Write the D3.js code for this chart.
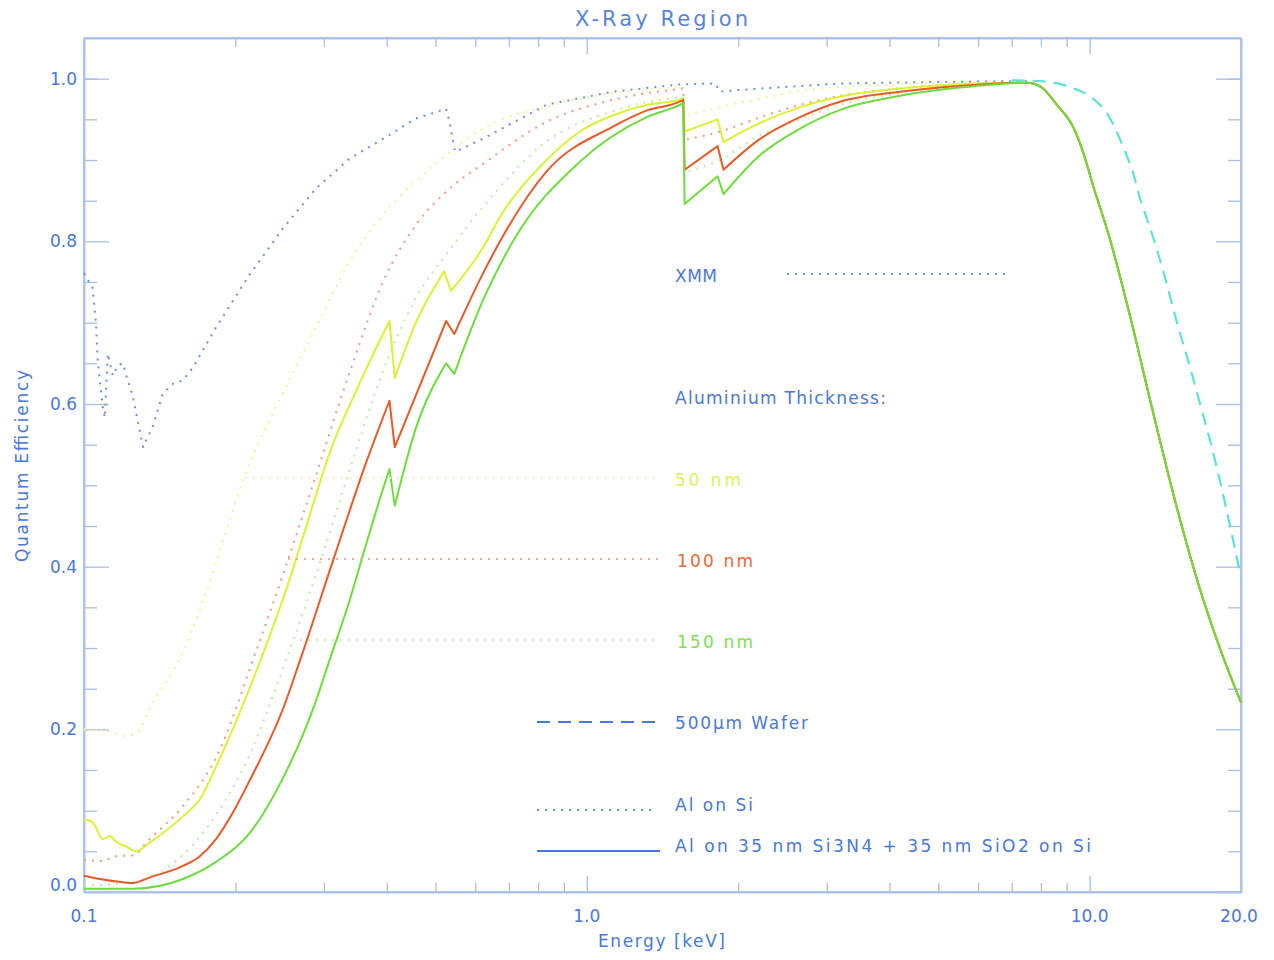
<!DOCTYPE html>
<html><head><meta charset="utf-8">
<script src="https://cdn.jsdelivr.net/npm/d3@7"></script>
<style>body{margin:0;background:#fff}svg{display:block}text{font-family:"DejaVu Sans",sans-serif}</style>
</head><body><svg id="c" width="1274" height="960"></svg>
<script>
// ---------- data (energy keV, quantum efficiency) ----------
const tailE  = [7.5, 8.0, 8.6, 9.3, 9.7, 10.2, 10.9, 12.1, 13.2, 14.8, 16.6, 18.2, 20.0];
const tailQE = [0.995, 0.99, 0.968, 0.939, 0.91, 0.865, 0.809, 0.702, 0.604, 0.48, 0.371, 0.298, 0.233];

const xmmE  = [0.1, 0.104, 0.1056, 0.1065, 0.109, 0.110, 0.1115, 0.1141, 0.117, 0.1195, 0.1211, 0.125, 0.131, 0.1371, 0.1435, 0.1503, 0.1573, 0.1647, 0.183, 0.214, 0.2487, 0.2893, 0.338, 0.393, 0.457, 0.525, 0.534, 0.547, 0.621, 0.832, 1.127, 1.534, 1.8, 1.84, 2.0, 2.5, 3.2, 5.0, 7.5];
const xmmQE = [0.761, 0.743, 0.70, 0.653, 0.596, 0.583, 0.662, 0.635, 0.648, 0.65, 0.637, 0.61, 0.547, 0.573, 0.613, 0.625, 0.629, 0.645, 0.694, 0.76, 0.816, 0.865, 0.902, 0.926, 0.951, 0.963, 0.945, 0.91, 0.926, 0.968, 0.984, 0.993, 0.994, 0.984, 0.986, 0.99, 0.994, 0.996, 0.997];

// Al on Si (dotted)
const si50E  = [0.1, 0.11, 0.121, 0.128, 0.135, 0.157, 0.183, 0.207, 0.2487, 0.2893, 0.338, 0.393, 0.457, 0.534, 0.621, 0.832, 1.127, 1.555, 1.565, 1.84, 2.2, 2.66, 3.2, 4.2, 5.5];
const si50QE = [0.2, 0.198, 0.192, 0.197, 0.225, 0.294, 0.404, 0.506, 0.613, 0.694, 0.776, 0.833, 0.874, 0.91, 0.939, 0.966, 0.982, 0.99, 0.955, 0.965, 0.975, 0.985, 0.99, 0.993, 0.995];
const si100E  = [0.1, 0.108, 0.116, 0.125, 0.135, 0.157, 0.183, 0.221, 0.2487, 0.285, 0.338, 0.393, 0.457, 0.534, 0.621, 0.832, 1.127, 1.555, 1.565, 1.84, 2.2, 2.66, 3.2, 4.2, 5.5];
const si100QE = [0.04, 0.038, 0.044, 0.045, 0.065, 0.105, 0.165, 0.30, 0.39, 0.50, 0.64, 0.75, 0.82, 0.865, 0.895, 0.947, 0.974, 0.988, 0.925, 0.935, 0.952, 0.968, 0.979, 0.988, 0.993];
const si150E  = [0.1, 0.125, 0.157, 0.183, 0.214, 0.2487, 0.2893, 0.33, 0.393, 0.457, 0.534, 0.621, 0.832, 1.127, 1.555, 1.565, 1.84, 2.2, 2.66, 3.2, 4.2, 5.5];
const si150QE = [0.008, 0.012, 0.045, 0.095, 0.17, 0.275, 0.39, 0.5, 0.64, 0.73, 0.79, 0.842, 0.923, 0.96, 0.978, 0.885, 0.9, 0.93, 0.95, 0.968, 0.982, 0.99];

// Al on 35 nm Si3N4 + 35 nm SiO2 on Si (solid)
const n50E  = [0.1, 0.104, 0.109, 0.1126, 0.1157, 0.1211, 0.1268, 0.1352, 0.1573, 0.17, 0.183, 0.2139, 0.2312, 0.2487, 0.2893, 0.304, 0.35, 0.405, 0.415, 0.457, 0.52, 0.537, 0.621, 0.672, 0.832, 0.969, 1.127, 1.318, 1.534, 1.555, 1.565, 1.82, 1.87, 2.2, 2.66, 3.2, 4.2, 5.5];
const n50QE = [0.089, 0.086, 0.065, 0.069, 0.062, 0.056, 0.05, 0.061, 0.093, 0.114, 0.154, 0.252, 0.306, 0.36, 0.488, 0.53, 0.62, 0.702, 0.632, 0.70, 0.763, 0.739, 0.792, 0.83, 0.90, 0.935, 0.955, 0.968, 0.974, 0.976, 0.935, 0.95, 0.922, 0.945, 0.965, 0.978, 0.988, 0.993];
const n100E  = [0.1, 0.1075, 0.1195, 0.125, 0.1352, 0.1573, 0.17, 0.183, 0.1979, 0.2139, 0.2487, 0.269, 0.313, 0.365, 0.405, 0.415, 0.525, 0.545, 0.621, 0.672, 0.832, 1.127, 1.318, 1.534, 1.555, 1.565, 1.82, 1.87, 2.2, 2.66, 3.2, 4.2, 5.5];
const n100QE = [0.02, 0.016, 0.012, 0.011, 0.018, 0.032, 0.044, 0.065, 0.098, 0.138, 0.225, 0.285, 0.408, 0.53, 0.604, 0.547, 0.702, 0.686, 0.76, 0.80, 0.886, 0.941, 0.961, 0.972, 0.974, 0.888, 0.917, 0.888, 0.925, 0.953, 0.972, 0.984, 0.991];
const n150E  = [0.1, 0.125, 0.1573, 0.183, 0.2139, 0.2487, 0.2893, 0.304, 0.338, 0.365, 0.393, 0.405, 0.415, 0.457, 0.525, 0.545, 0.621, 0.713, 0.969, 1.318, 1.534, 1.555, 1.565, 1.82, 1.87, 2.2, 2.66, 3.2, 4.2, 5.5];
const n150QE = [0.004, 0.004, 0.016, 0.037, 0.073, 0.14, 0.235, 0.275, 0.36, 0.43, 0.495, 0.52, 0.475, 0.57, 0.65, 0.637, 0.727, 0.80, 0.898, 0.953, 0.968, 0.97, 0.846, 0.88, 0.858, 0.905, 0.939, 0.962, 0.979, 0.989];

const waferE  = [7.0, 8.0, 9.3, 10.18, 10.86, 11.5, 12.2, 12.6, 13.37, 14.13, 14.92, 15.84, 16.58, 17.36, 18.17, 19.02, 20.0];
const waferQE = [0.998, 0.997, 0.988, 0.975, 0.956, 0.925, 0.885, 0.852, 0.805, 0.755, 0.70, 0.645, 0.60, 0.555, 0.505, 0.45, 0.387];

const xMajor = [0.1, 1, 10];
const xMajorLabels = ["0.1", "1.0", "10.0"];
const xMinor = [0.2,0.3,0.4,0.5,0.6,0.7,0.8,0.9,2,3,4,5,6,7,8,9,20];
const yMajor = [0, 0.2, 0.4, 0.6, 0.8, 1.0];
const yMinor = [0.05,0.1,0.15,0.25,0.3,0.35,0.45,0.5,0.55,0.65,0.7,0.75,0.85,0.9,0.95,1.0];

// ---------- layout ----------
const L = 84, R = 1241, T = 38, B = 892;
const blue = "#4a78d6", axisCol = "#a9bfe8";
const svg = d3.select("#c");
const x = d3.scaleLog().domain([0.1, 20]).range([L, R]);
const y = d3.scaleLinear().domain([0, 1.05]).range([B, T]);

function withTail(E, Q){ return {E: E.concat(tailE), Q: Q.concat(tailQE)}; }
const smooth = d3.line().x(d => x(d[0])).y(d => y(d[1])).curve(d3.curveMonotoneX);
const lineLin = d3.line().x(d => x(d[0])).y(d => y(d[1]));
// smooth between absorption edges, sharp straight drops at edges
function edgePath(pts){
  const runs = [[pts[0]]];
  for(let i=1;i<pts.length;i++){
    const isEdge = pts[i][1] < pts[i-1][1] - 0.008 && pts[i][0]/pts[i-1][0] < 1.04;
    if(isEdge) runs.push([]);
    runs[runs.length-1].push(pts[i]);
  }
  return runs.map((r,k)=>{
    const d = r.length>1 ? smooth(r) : `M${x(r[0][0])},${y(r[0][1])}`;
    return k===0 ? d : "L" + d.slice(1);
  }).join("");
}
function draw(E, Q, color, width, dash, linear){
  const pts = E.map((e,i)=>[e,Q[i]]);
  svg.append("path").attr("d", linear ? lineLin(pts) : edgePath(pts))
    .attr("fill","none").attr("stroke",color)
    .attr("stroke-width",width).attr("stroke-dasharray",dash||null)
    .attr("stroke-linejoin","round");
}

// axes
function styleAxis(g){
  g.select(".domain").attr("stroke", axisCol).attr("stroke-width",1.5);
  g.selectAll(".tick line").attr("stroke", axisCol).attr("stroke-width",1.3);
  g.selectAll(".tick text").remove();
}
svg.append("g").attr("transform",`translate(0,${B})`).call(d3.axisBottom(x).tickValues(xMajor).tickSize(-16).tickSizeOuter(0)).call(styleAxis);
svg.append("g").attr("transform",`translate(0,${B})`).call(d3.axisBottom(x).tickValues(xMinor).tickSize(-9).tickSizeOuter(0)).call(styleAxis);
svg.append("g").attr("transform",`translate(0,${T})`).call(d3.axisTop(x).tickValues(xMajor).tickSize(-16).tickSizeOuter(0)).call(styleAxis);
svg.append("g").attr("transform",`translate(0,${T})`).call(d3.axisTop(x).tickValues(xMinor).tickSize(-9).tickSizeOuter(0)).call(styleAxis);
svg.append("g").attr("transform",`translate(${L},0)`).call(d3.axisLeft(y).tickValues(yMajor).tickSize(-25).tickSizeOuter(0)).call(styleAxis);
svg.append("g").attr("transform",`translate(${L},0)`).call(d3.axisLeft(y).tickValues(yMinor).tickSize(-13).tickSizeOuter(0)).call(styleAxis);
svg.append("g").attr("transform",`translate(${R},0)`).call(d3.axisRight(y).tickValues(yMajor).tickSize(-25).tickSizeOuter(0)).call(styleAxis);
svg.append("g").attr("transform",`translate(${R},0)`).call(d3.axisRight(y).tickValues(yMinor).tickSize(-13).tickSizeOuter(0)).call(styleAxis);
[[L,R,T,T],[L,R,B,B],[L,L,T,B],[R,R,T,B]].forEach(a=>
  svg.append("line").attr("x1",a[0]).attr("x2",a[1]).attr("y1",a[2]).attr("y2",a[3]).attr("stroke",axisCol).attr("stroke-width",1.5));

// text
const fs = 17;
function txt(xx, yy, str, col, size, len, anchor){
  const t = svg.append("text").attr("x",xx).attr("y",yy).attr("font-size",size).attr("fill",col)
    .attr("text-anchor",anchor||"start").text(str);
  if(len) t.attr("textLength",len).attr("lengthAdjust","spacing");
  return t;
}
xMajor.forEach((v,i)=> txt(x(v), 922, xMajorLabels[i], blue, 17, null, "middle"));
txt(1239, 922, "20.0", blue, 17, null, "middle");
yMajor.forEach(v=> txt(77, v===0 ? y(v)-1 : y(v)+6, v.toFixed(1), blue, 17, null, "end"));

txt(598, 947, "Energy [keV]", blue, fs, 127);
svg.append("text").attr("transform","translate(28,562) rotate(-90)").attr("font-size",fs).attr("fill",blue)
  .attr("textLength",192).attr("lengthAdjust","spacing").text("Quantum Efficiency");
txt(575, 26, "X-Ray Region", "#5a84d8", 21, 173);

// curves
const dot = "2,6";
draw(xmmE, xmmQE, "#7090d4", 2, dot, true);
let s;
s = withTail(si50E, si50QE);  draw(s.E, s.Q, "#eef59c", 2, dot);
s = withTail(si100E, si100QE); draw(s.E, s.Q, "#ee9c7e", 2, dot);
s = withTail(si150E, si150QE); draw(s.E, s.Q, "#bfeca4", 2, dot);
s = withTail(n50E, n50QE);   draw(s.E, s.Q, "#dcf036", 2);
s = withTail(n100E, n100QE); draw(s.E, s.Q, "#e65a2a", 2);
s = withTail(n150E, n150QE); draw(s.E, s.Q, "#6edc3e", 2);
draw(waferE, waferQE, "#5fe2d6", 2.2, "13,8");

// legend
function lline(x1,x2,yy,col,dash,w){
  svg.append("line").attr("x1",x1).attr("x2",x2).attr("y1",yy).attr("y2",yy)
    .attr("stroke",col).attr("stroke-width",w||2).attr("stroke-dasharray",dash||null);
}
txt(675, 282, "XMM", blue, fs, 42);
lline(787, 1011, 274, "#7090d4", dot);
txt(675, 404, "Aluminium Thickness:", blue, fs, 211);
txt(675, 486, "50 nm", "#e2f05a", fs, 66);
lline(245, 660, 478, "#eef5b4", dot);
txt(677, 567, "100 nm", "#e86a34", fs, 76);
lline(288, 660, 559, "#f0ae98", dot);
txt(677, 648, "150 nm", "#7ede52", fs, 76);
lline(300, 660, 640, "#cdeeb6", dot);
txt(675, 729, "500\u03bcm Wafer", blue, fs, 133);
lline(537, 660, 722, blue, "13,8");
txt(675, 811, "Al on Si", blue, fs, 78);
lline(537, 657, 810, "#7090d4", dot);
txt(675, 852, "Al on 35 nm Si3N4 + 35 nm SiO2 on Si", blue, fs, 416);
lline(537, 660, 851, blue, null, 2);
</script></body></html>
